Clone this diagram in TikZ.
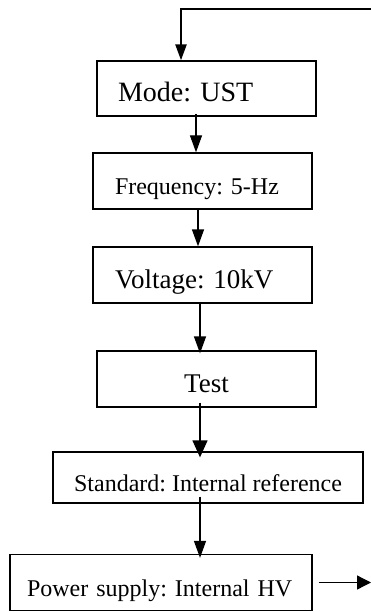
\documentclass[tikz,border=0pt]{standalone}
\usepackage{fontspec}
\setmainfont{Liberation Serif}
\usepackage{tikz}
\usetikzlibrary{arrows.meta}
\frenchspacing

\begin{document}
\begin{tikzpicture}[x=1pt,y=-1pt]
  \tikzset{every node/.style={shape=rectangle,inner sep=0pt,text height=27pt,text depth=0pt}};
  \tikzset{stepbox/.style={draw,line width=1.3pt,minimum width=219pt,minimum height=56pt}};
  \tikzset{leftbox/.style={stepbox,inner xsep=22pt,text width=175pt,align=left}};
  \tikzset{arr/.style={line width=1.3pt,-{Triangle[length=17pt,width=12pt]}}};
  \useasboundingbox (0,0) rectangle (371,612);
  \node [leftbox,inner xsep=21pt,text width=177pt,minimum height=55pt,font=\fontsize{28}{30}\selectfont] (mode) at (206.5,88.5) {Mode: UST};
  \node [leftbox,font=\fontsize{24}{26}\selectfont] (freq) at (202.5,181) {Frequency: 5-Hz};
  \node [leftbox,font=\fontsize{27}{29}\selectfont] (volt) at (202.5,275) {Voltage: 10kV};
  \node [stepbox,font=\fontsize{27}{29}\selectfont] (test) at (206.5,379) {Test};
  \node [stepbox,minimum width=310pt,minimum height=51pt,font=\fontsize{24}{26}\selectfont] (std) at (208,477.5) {Standard: Internal reference};
  \node [leftbox,inner xsep=17pt,text width=268pt,minimum height=56pt,font=\fontsize{24}{26}\selectfont] (power) at (161,582.5) {Power supply: Internal HV};
  \coordinate (loopin) at (371,9);
  \coordinate (out) at (371,582.5);
  \draw [arr,line width=2.4pt,-{Triangle[length=16pt,width=11pt]}] (loopin) -| ([xshift=-25.5pt]mode.north);
  \draw [arr] ([xshift=-10.5pt,yshift=3pt]mode.south) -- ([xshift=-6.5pt]freq.north);
  \draw [arr] ([xshift=-4.5pt]freq.south) -- ([xshift=-4.5pt]volt.north);
  \draw [arr] ([xshift=-2.5pt,yshift=2pt]volt.south) -- ([xshift=-6.5pt,yshift=-3pt]test.north);
  \draw [arr,-{Triangle[length=17pt,width=15pt]}] ([xshift=-6.5pt,yshift=5pt]test.south) -- ([xshift=-8pt,yshift=-6pt]std.north);
  \draw [arr] ([xshift=-8pt,yshift=7pt]std.south) -- ([xshift=39pt,yshift=-4pt]power.north);
  \draw [arr,-{Triangle[length=14pt,width=14pt]}] ([xshift=6pt]power.east) -- (out);
\end{tikzpicture}
\end{document}
